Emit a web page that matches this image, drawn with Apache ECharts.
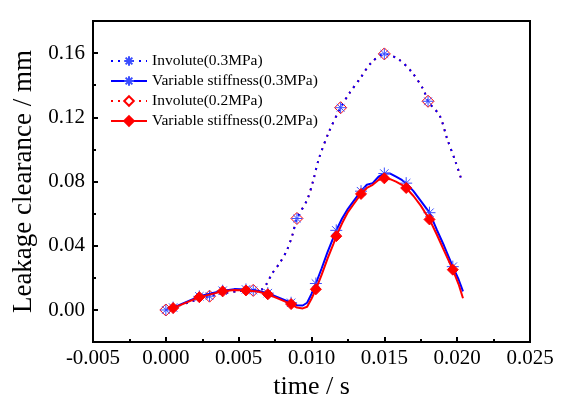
<!DOCTYPE html>
<html><head><meta charset="utf-8">
<script src="https://cdn.jsdelivr.net/npm/echarts@6/dist/echarts.min.js"></script>
<style>html,body{margin:0;padding:0;background:#fff}#c{width:561px;height:405px}</style>
</head><body><div id="c"></div>
<script>
// ---- data (time in s, clearance in mm) ----
const involuteT = [0,0.001,0.002,0.003,0.004,0.005,0.006,0.0066,0.0069,0.0073,0.0078,0.0083,0.0087,0.009,0.0097,0.0101,0.0105,0.0112,0.012,0.0126,0.0134,0.0141,0.015,0.016,0.0169,0.0177,0.018,0.0188,0.0193,0.0199,0.0203];
const involute03 = [0,0.003,0.006,0.0086,0.0105,0.0118,0.0122,0.0129,0.016,0.0227,0.029,0.037,0.047,0.057,0.0686,0.080,0.094,0.111,0.126,0.135,0.145,0.154,0.1595,0.156,0.148,0.137,0.130,0.121,0.107,0.092,0.081];
// Involute(0.2MPa) lies exactly under Involute(0.3MPa) in the picture
const involute02 = [0,0.003,0.006,0.0086,0.0105,0.0118,0.0122,0.0129,0.016,0.0227,0.029,0.037,0.047,0.057,0.0686,0.080,0.094,0.111,0.126,0.135,0.145,0.154,0.1595,0.156,0.148,0.137,0.130,0.121,0.107,0.092,0.081];
const involuteMarkT = [0,0.003,0.006,0.009,0.012,0.015,0.018];

const varT = [0.0005,0.0023,0.0039,0.0047,0.0055,0.0063,0.0070,0.0078,0.0086,0.0090,0.0094,0.0097,0.0100,0.0103,0.0107,0.0111,0.0115,0.0117,0.0121,0.0125,0.0129,0.0134,0.0138,0.0142,0.0146,0.0150,0.0154,0.0158,0.0162,0.0165,0.0170,0.0175,0.0181,0.0186,0.0191,0.0197,0.0201,0.0204];
const var03 = [0.0015,0.0085,0.012,0.013,0.0128,0.012,0.0105,0.0075,0.0045,0.003,0.0028,0.0045,0.010,0.0165,0.026,0.036,0.045,0.0496,0.057,0.063,0.068,0.074,0.078,0.079,0.083,0.085,0.085,0.083,0.081,0.079,0.074,0.068,0.0606,0.050,0.040,0.027,0.019,0.0116];
const var02 = [0.0012,0.008,0.0116,0.0125,0.0122,0.0115,0.0098,0.0068,0.0037,0.0015,0.0010,0.0020,0.0070,0.0129,0.022,0.032,0.041,0.046,0.054,0.061,0.066,0.0723,0.076,0.078,0.081,0.082,0.0815,0.080,0.078,0.076,0.071,0.065,0.0564,0.047,0.037,0.0251,0.016,0.0073];
const varMarkT = [0.0005,0.0023,0.0039,0.0055,0.0070,0.0086,0.0103,0.0117,0.0134,0.0150,0.0165,0.0181,0.0197];

const yLabelValues = [0,0.04,0.08,0.12,0.16];
const yMinorValues = [0.02,0.06,0.10,0.14];

// ---- chart ----
const FONT = 'Liberation Serif';
const BLUE = '#0000ff', RED = '#ff0000';
const ASTER = 'path://M0,5L10,5M5,0L5,10M1.5,1.5L8.5,8.5M8.5,1.5L1.5,8.5';

function build(ts, ys, marks) {
  return ts.map((t, i) => {
    const on = marks.some(m => Math.abs(m - t) < 1e-9);
    return on ? {value: [t, ys[i]]} : {value: [t, ys[i]], symbol: 'none'};
  });
}

const chart = echarts.init(document.getElementById('c'), null, {renderer: 'canvas'});
chart.setOption({
  backgroundColor: '#fff',
  animation: false,
  grid: {left: 93, right: 31, top: 21, bottom: 56, show: true, borderColor: '#000', borderWidth: 2, backgroundColor: 'transparent'},
  legend: {
    orient: 'vertical', left: 105, top: 48, itemWidth: 36, itemHeight: 12, itemGap: 4,
    data: ['Involute(0.3MPa)', 'Variable stiffness(0.3MPa)', 'Involute(0.2MPa)', 'Variable stiffness(0.2MPa)'],
    textStyle: {fontFamily: FONT, fontSize: 15.5, color: '#000'}
  },
  xAxis: {
    type: 'value', min: -0.005, max: 0.025, interval: 0.005,
    name: 'time / s', nameLocation: 'middle', nameGap: 26,
    nameTextStyle: {fontFamily: FONT, fontSize: 26, color: '#000'},
    axisLine: {show: true, onZero: false, lineStyle: {color: '#000', width: 2}},
    axisTick: {show: true, inside: true, length: 5, lineStyle: {color: '#000', width: 2}},
    minorTick: {show: true, splitNumber: 2, length: 3, lineStyle: {color: '#000', width: 2}},
    splitLine: {show: false},
    axisLabel: {fontFamily: FONT, fontSize: 21, color: '#000', margin: 6, formatter: v => v.toFixed(3)}
  },
  yAxis: [{
    type: 'value', min: -0.02, max: 0.18, interval: 0.02,
    name: 'Leakage clearance / mm', nameLocation: 'middle', nameGap: 52,
    nameTextStyle: {fontFamily: FONT, fontSize: 27, color: '#000'},
    axisLine: {show: true, onZero: false, lineStyle: {color: '#000', width: 2}},
    axisTick: {show: true, inside: true, length: 5, customValues: yLabelValues, lineStyle: {color: '#000', width: 2}},
    splitLine: {show: false},
    axisLabel: {fontFamily: FONT, fontSize: 21, color: '#000', margin: 8, customValues: yLabelValues, formatter: v => v.toFixed(2)}
  }, {
    type: 'value', min: -0.02, max: 0.18, interval: 0.02, position: 'left', offset: 0,
    axisLine: {show: false, onZero: false},
    axisTick: {show: true, inside: true, length: 3, customValues: yMinorValues, lineStyle: {color: '#000', width: 2}},
    axisLabel: {show: false}, splitLine: {show: false}
  }],
  series: [
    {
      name: 'Involute(0.2MPa)', type: 'line', smooth: 0.3, z: 2,
      data: build(involuteT, involute02, involuteMarkT),
      symbol: 'diamond', symbolSize: 12, showAllSymbol: true,
      itemStyle: {color: '#fff', borderColor: RED, borderWidth: 1},
      lineStyle: {color: RED, width: 2, type: [2, 5]}
    },
    {
      name: 'Involute(0.3MPa)', type: 'line', smooth: 0.3, z: 3,
      data: build(involuteT, involute03, involuteMarkT),
      symbol: ASTER, symbolSize: 11, showAllSymbol: true,
      itemStyle: {color: 'rgba(0,0,0,0)', borderColor: '#3a4dff', borderWidth: 1},
      lineStyle: {color: BLUE, width: 2, type: [2, 5]}
    },
    {
      name: 'Variable stiffness(0.3MPa)', type: 'line', z: 4,
      data: build(varT, var03, varMarkT),
      symbol: ASTER, symbolSize: 12, showAllSymbol: true,
      itemStyle: {color: 'rgba(0,0,0,0)', borderColor: '#3a4dff', borderWidth: 1},
      lineStyle: {color: BLUE, width: 2}
    },
    {
      name: 'Variable stiffness(0.2MPa)', type: 'line', z: 5,
      data: build(varT, var02, varMarkT),
      symbol: 'diamond', symbolSize: 11, showAllSymbol: true,
      itemStyle: {color: RED, borderColor: RED, borderWidth: 1},
      lineStyle: {color: RED, width: 2}
    }
  ]
});
</script></body></html>
